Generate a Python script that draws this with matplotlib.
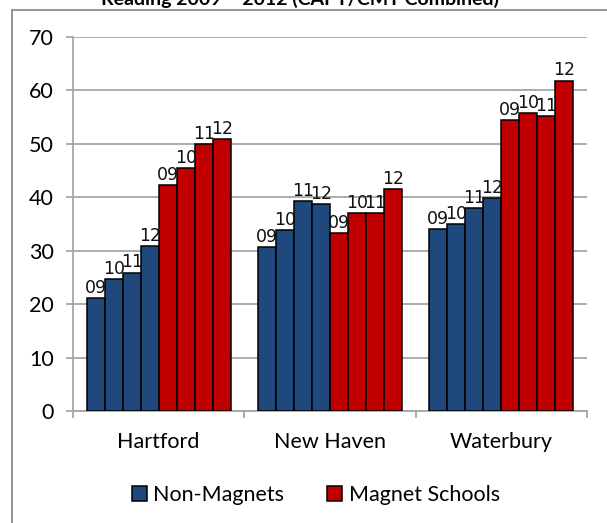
import numpy as np
import matplotlib
matplotlib.use('Agg')
import matplotlib.pyplot as plt
from matplotlib.lines import Line2D
from matplotlib.patches import Patch

cities = ['Hartford', 'New Haven', 'Waterbury']
years = ['09', '10', '11', '12']
non_magnets = [[21.1, 24.7, 25.9, 30.9],
               [30.7, 33.9, 39.2, 38.7],
               [34.1, 35.0, 38.0, 39.8]]
magnets = [[42.2, 45.5, 49.9, 50.8],
           [33.2, 37.0, 37.0, 41.6],
           [54.4, 55.8, 55.2, 61.8]]

blue = '#1F497D'
red = '#C00000'
grid_col = '#A6A6A6'

plt.rcParams['font.family'] = ['Lato', 'DejaVu Sans']

fig = plt.figure(figsize=(6.07, 5.23), dpi=100)
ax = fig.add_axes([0.1203, 0.2141, 0.8467, 0.7157])

w = 0.105
start = -0.42
for ci in range(len(cities)):
    vals = non_magnets[ci] + magnets[ci]
    cols = [blue] * 4 + [red] * 4
    for k, v in enumerate(vals):
        x = ci + start + w * k + w / 2
        ax.bar(x, v, width=w, color=cols[k], edgecolor='black', linewidth=1.1, zorder=3)
        ax.text(x, v + 0.2, years[k % 4], ha='center', va='bottom',
                fontsize=12.5, family='DejaVu Sans', color='#111111', zorder=4)

ax.set_xlim(-0.5, 2.5)
ax.set_ylim(0, 70)
ax.set_yticks(range(0, 71, 10))
ax.yaxis.grid(True, color=grid_col, linewidth=1.3, zorder=0)
ax.set_axisbelow(True)

ax.set_xticks([0, 1, 2])
ax.set_xticklabels(cities, fontsize=15.5)
ax.set_xticks([-0.5, 0.5, 1.5, 2.5], minor=True)
ax.tick_params(axis='x', which='major', length=0, pad=15)
ax.tick_params(axis='x', which='minor', length=5, width=1.3, color=grid_col)
ax.tick_params(axis='y', length=5, width=1.3, color=grid_col, labelsize=15.5, pad=9)

for s in ['top', 'right']:
    ax.spines[s].set_visible(False)
for s in ['left', 'bottom']:
    ax.spines[s].set_color(grid_col)
    ax.spines[s].set_linewidth(1.3)

handles = [Patch(facecolor=blue, edgecolor='black', linewidth=1.1),
           Patch(facecolor=red, edgecolor='black', linewidth=1.1)]
fig.legend(handles, ['Non-Magnets', 'Magnet Schools'], loc='center',
           bbox_to_anchor=(0.52, 0.053), ncol=2, frameon=False, fontsize=15.5,
           handlelength=0.7, handleheight=0.7, handletextpad=0.3, columnspacing=2.0)

# outer chart frame (partly cut off)
fig.add_artist(Line2D([12 / 607, 12 / 607], [0, 1 - 10 / 523], transform=fig.transFigure,
                      color='#8C8C8C', linewidth=1.3))
fig.add_artist(Line2D([12 / 607, 1], [1 - 10 / 523, 1 - 10 / 523], transform=fig.transFigure,
                      color='#8C8C8C', linewidth=1.3))

fig.text(0.495, 1 - 5 / 523, 'Reading 2009 \u2013 2012 (CAPT/CMT Combined)', ha='center',
         va='baseline', fontsize=14, fontweight='bold')

fig.savefig('out.png', dpi=100)
